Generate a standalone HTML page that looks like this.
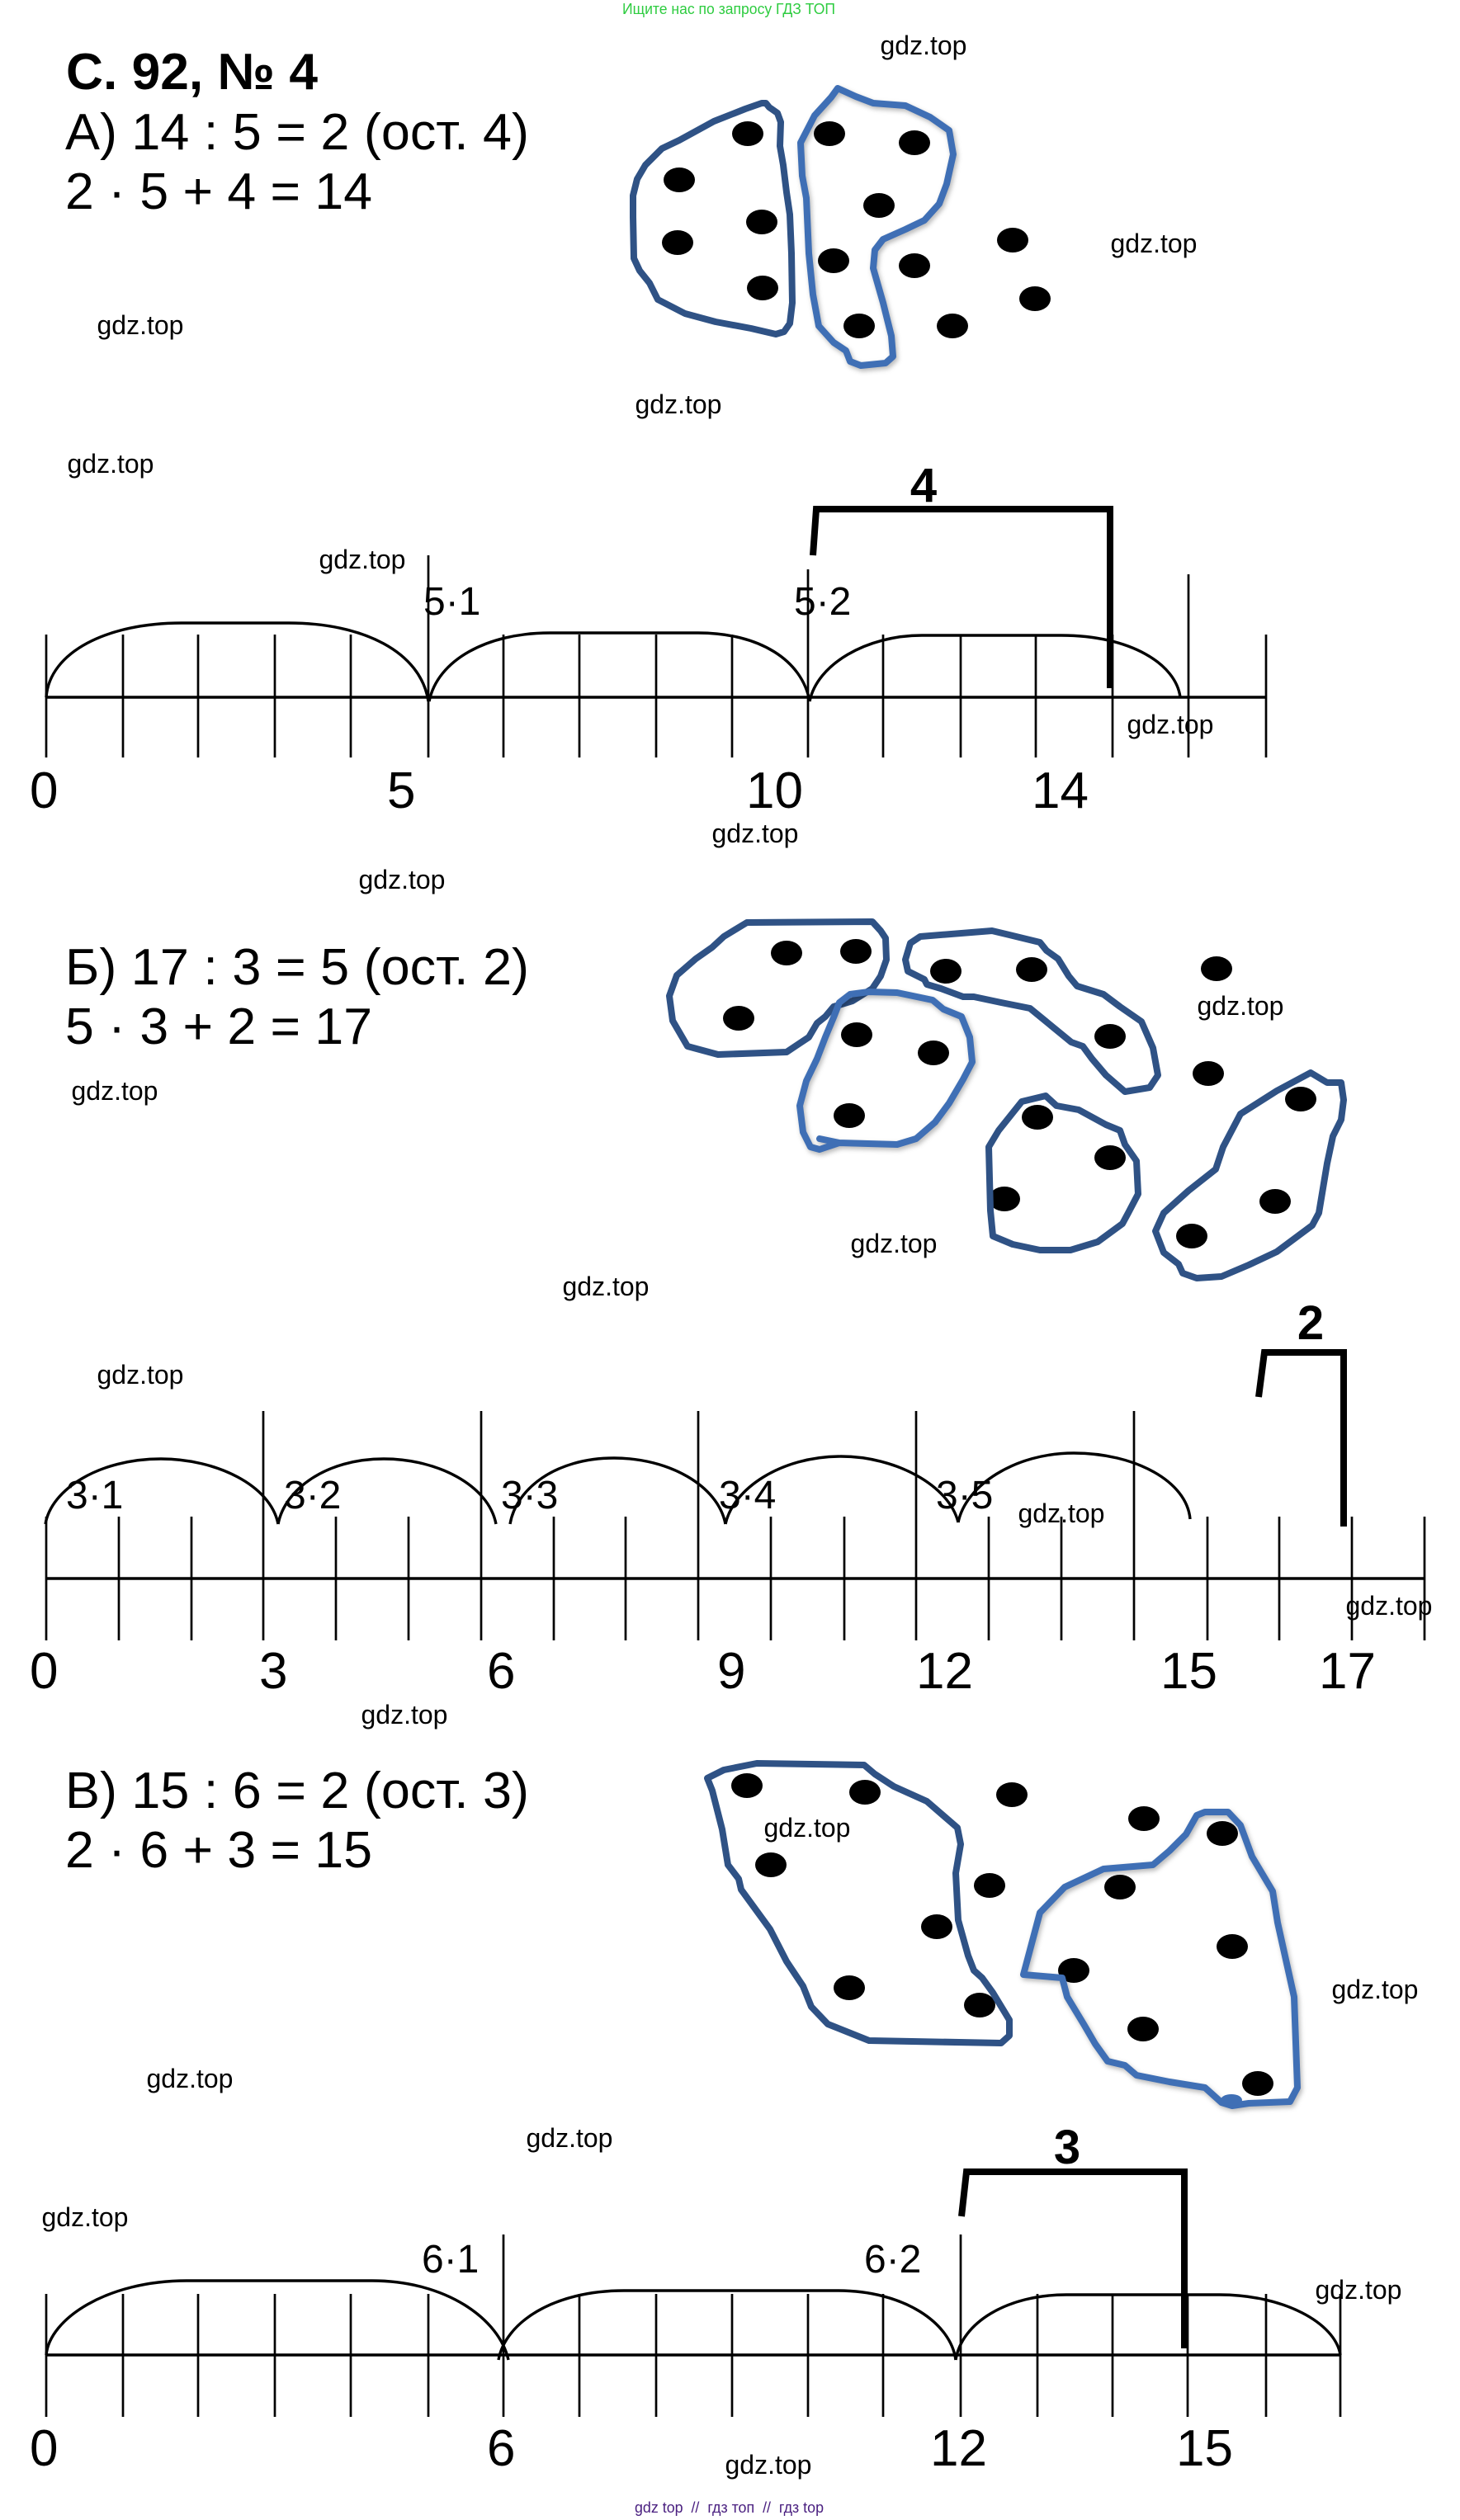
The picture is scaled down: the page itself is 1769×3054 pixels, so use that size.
<!DOCTYPE html>
<html><head><meta charset="utf-8"><style>
html,body{margin:0;padding:0;background:#fff;width:1769px;height:3054px;overflow:hidden}
svg{display:block}
text{font-family:"Liberation Sans","Noto Sans CJK SC",sans-serif;fill:#000}
.t{font-size:62px}.b{font-size:62px;font-weight:bold}
.n{font-size:62px}.m{font-size:48px}.w{font-size:32px}
.d{fill:none;stroke:#2f5285;stroke-width:8;stroke-linejoin:round;stroke-linecap:round}
.l{fill:none;stroke:#3f6fb5;stroke-width:8;stroke-linejoin:round;stroke-linecap:round;filter:drop-shadow(2px 3px 3px rgba(0,0,0,.28))}
.a{fill:none;stroke:#000;stroke-width:3.4}
.k{fill:none;stroke:#000;stroke-width:2.7}
.h{fill:none;stroke:#000;stroke-width:8}
</style></head><body>
<svg width="1769" height="3054" viewBox="0 0 1769 3054" xmlns="http://www.w3.org/2000/svg">
<rect width="1769" height="3054" fill="#fff"/>
<text x="754" y="17" style="font-size:18px;fill:#2ecc40" textLength="258" lengthAdjust="spacingAndGlyphs">Ищите нас по запросу ГДЗ ТОП</text>
<text x="769" y="3045" style="font-size:18px;fill:#4a2080" textLength="229" lengthAdjust="spacingAndGlyphs">gdz top &#160;// &#160;гдз топ &#160;// &#160;гдз top</text>

<!-- A text -->
<text class="b" x="80" y="108" textLength="305" lengthAdjust="spacingAndGlyphs">С. 92, № 4</text>
<text class="t" x="79" y="181" textLength="562" lengthAdjust="spacingAndGlyphs">А) 14 : 5 = 2 (ост. 4)</text>
<text class="t" x="79" y="253" textLength="372" lengthAdjust="spacingAndGlyphs">2 · 5 + 4 = 14</text>

<!-- A blobs -->
<g fill="#000">
<ellipse cx="906" cy="162" rx="19" ry="15"/><ellipse cx="823" cy="218" rx="19" ry="15"/><ellipse cx="923" cy="269" rx="19" ry="15"/><ellipse cx="821" cy="294" rx="19" ry="15"/><ellipse cx="924" cy="349" rx="19" ry="15"/><ellipse cx="1005" cy="162" rx="19" ry="15"/><ellipse cx="1108" cy="173" rx="19" ry="15"/><ellipse cx="1065" cy="249" rx="19" ry="15"/><ellipse cx="1010" cy="316" rx="19" ry="15"/><ellipse cx="1108" cy="322" rx="19" ry="15"/><ellipse cx="1227" cy="291" rx="19" ry="15"/><ellipse cx="1254" cy="362" rx="19" ry="15"/><ellipse cx="1041" cy="395" rx="19" ry="15"/><ellipse cx="1154" cy="395" rx="19" ry="15"/>
</g>
<polygon class="d" points="928,125 932,130 942,137 946,148 945,177 949,200 953,233 957,260 959,307 960,367 957,392 950,402 940,405 910,398 867,390 830,380 797,363 787,343 775,328 768,313 767,263 767,237 772,217 782,200 802,180 823,170 865,147 903,132 923,125"/>
<polygon class="l" points="1015,107 1037,117 1058,125 1097,128 1127,142 1150,158 1155,187 1147,223 1138,247 1120,267 1097,278 1070,290 1060,303 1058,325 1070,367 1080,407 1082,432 1073,440 1043,443 1030,438 1025,425 1010,415 992,395 985,357 980,307 977,240 972,213 970,173 987,140 1007,118"/>

<!-- A line -->
<path class="a" d="M56 845H1534"/>
<path class="k" d="M56 769V918M149 769V918M240 769V918M333 769V918M425 769V918M519 673V918M610 769V918M702 769V918M795 769V918M887 769V918M979 690V918M1070 769V918M1164 769V918M1255 769V918M1348 769V918M1440 696V918M1534 769V918"/>
<path class="a" d="M56 845C60 790 130 755 220 755H350C440 755 510 790 519 850"/>
<path class="a" d="M520 850C530 800 590 767 666 767H846C920 767 972 800 981 850"/>
<path class="a" d="M981 850C990 805 1050 770 1117 770H1286C1370 770 1425 805 1430 845"/>
<path class="h" d="M985 673L989 617H1345V834"/>
<text class="b" x="1119" y="608" text-anchor="middle" style="font-size:58px">4</text>
<text class="m" x="513" y="745">5·1</text>
<text class="m" x="962" y="745">5·2</text>
<text class="n" x="36" y="979">0</text><text class="n" x="469" y="979">5</text>
<text class="n" x="904" y="979">10</text>
<text class="n" x="1250" y="979">14</text>

<!-- Б text -->
<text class="t" x="79" y="1193" textLength="562" lengthAdjust="spacingAndGlyphs">Б) 17 : 3 = 5 (ост. 2)</text>
<text class="t" x="79" y="1265" textLength="372" lengthAdjust="spacingAndGlyphs">5 · 3 + 2 = 17</text>

<!-- Б blobs -->
<g fill="#000">
<ellipse cx="953" cy="1155" rx="19" ry="15"/><ellipse cx="1037" cy="1153" rx="19" ry="15"/><ellipse cx="895" cy="1234" rx="19" ry="15"/><ellipse cx="1146" cy="1177" rx="19" ry="15"/><ellipse cx="1250" cy="1175" rx="19" ry="15"/><ellipse cx="1345" cy="1256" rx="19" ry="15"/><ellipse cx="1474" cy="1174" rx="19" ry="15"/><ellipse cx="1464" cy="1301" rx="19" ry="15"/><ellipse cx="1038" cy="1254" rx="19" ry="15"/><ellipse cx="1131" cy="1276" rx="19" ry="15"/><ellipse cx="1029" cy="1352" rx="19" ry="15"/><ellipse cx="1257" cy="1354" rx="19" ry="15"/><ellipse cx="1345" cy="1403" rx="19" ry="15"/><ellipse cx="1217" cy="1453" rx="19" ry="15"/><ellipse cx="1576" cy="1332" rx="19" ry="15"/><ellipse cx="1545" cy="1456" rx="19" ry="15"/><ellipse cx="1444" cy="1498" rx="19" ry="15"/>
</g>
<polygon class="d" points="905,1118 1057,1117 1067,1128 1073,1137 1074,1163 1067,1183 1057,1198 1033,1213 1010,1220 1000,1232 990,1240 980,1257 953,1275 870,1278 833,1268 815,1237 811,1207 820,1182 843,1162 863,1148 877,1135"/>
<polygon class="d" points="1115,1135 1202,1128 1223,1133 1260,1142 1268,1152 1282,1162 1295,1183 1305,1195 1337,1205 1357,1220 1383,1238 1397,1270 1403,1303 1393,1318 1363,1323 1340,1303 1323,1283 1312,1268 1298,1263 1248,1222 1213,1215 1180,1208 1167,1208 1140,1198 1123,1193 1120,1187 1100,1177 1097,1163 1103,1143"/>
<polygon class="d" points="1267,1328 1280,1340 1307,1345 1340,1363 1357,1370 1363,1387 1377,1407 1379,1447 1367,1470 1360,1483 1330,1505 1297,1515 1260,1515 1227,1508 1203,1498 1200,1467 1198,1390 1210,1370 1238,1335"/>
<polygon class="d" points="1588,1300 1608,1312 1625,1312 1628,1333 1625,1357 1615,1377 1608,1410 1598,1470 1590,1485 1547,1517 1513,1533 1480,1547 1450,1549 1433,1543 1428,1532 1410,1518 1400,1492 1410,1470 1440,1443 1473,1417 1482,1390 1503,1350 1547,1322"/>
<path class="l" d="M1017 1215L1030 1205 1053 1202 1087 1203 1130 1212 1143 1223 1165 1232 1175 1257 1178 1287 1167 1308 1150 1337 1133 1360 1110 1380 1087 1387 1017 1385 993 1393 982 1390 973 1372 969 1340 977 1310 990 1283 1000 1257 1010 1233ZM993 1380L1017 1385"/>

<!-- Б line -->
<path class="a" d="M56 1913H1726"/>
<path class="k" d="M56 1838V1988M144 1838V1988M232 1838V1988M319 1710V1988M407 1838V1988M495 1838V1988M583 1710V1988M671 1838V1988M758 1838V1988M846 1710V1988M934 1838V1988M1023 1838V1988M1110 1710V1988M1198 1838V1988M1286 1838V1988M1374 1710V1988M1463 1838V1988M1550 1838V1988M1638 1838V1988M1726 1838V1988"/>
<path class="a" d="M55 1847C62 1805 120 1768 195 1768C262 1768 328 1800 337 1847"/>
<path class="a" d="M337 1847C345 1805 395 1768 465 1768C530 1768 592 1800 601 1847"/>
<path class="a" d="M618 1847C625 1805 672 1767 744 1767C810 1767 870 1800 879 1847"/>
<path class="a" d="M879 1847C888 1805 945 1765 1019 1765C1085 1765 1150 1800 1161 1845"/>
<path class="a" d="M1161 1845C1170 1800 1230 1761 1301 1761C1375 1761 1438 1795 1442 1841"/>
<path class="h" d="M1525 1693L1532 1639H1628V1850"/>
<text class="b" x="1588" y="1623" text-anchor="middle" style="font-size:58px">2</text>
<text class="m" x="80" y="1828">3·1</text>
<text class="m" x="344" y="1828">3·2</text>
<text class="m" x="607" y="1828">3·3</text>
<text class="m" x="871" y="1828">3·4</text>
<text class="m" x="1134" y="1828">3·5</text>
<text class="n" x="36" y="2046">0</text><text class="n" x="314" y="2046">3</text><text class="n" x="590" y="2046">6</text><text class="n" x="869" y="2046">9</text>
<text class="n" x="1110" y="2046">12</text>
<text class="n" x="1406" y="2046">15</text>
<text class="n" x="1598" y="2046">17</text>

<!-- В text -->
<text class="t" x="79" y="2191" textLength="562" lengthAdjust="spacingAndGlyphs">В) 15 : 6 = 2 (ост. 3)</text>
<text class="t" x="79" y="2263" textLength="372" lengthAdjust="spacingAndGlyphs">2 · 6 + 3 = 15</text>

<!-- В blobs -->
<g fill="#000">
<ellipse cx="905" cy="2164" rx="19" ry="15"/><ellipse cx="1048" cy="2172" rx="19" ry="15"/><ellipse cx="1226" cy="2175" rx="19" ry="15"/><ellipse cx="1386" cy="2204" rx="19" ry="15"/><ellipse cx="1481" cy="2222" rx="19" ry="15"/><ellipse cx="934" cy="2260" rx="19" ry="15"/><ellipse cx="1357" cy="2287" rx="19" ry="15"/><ellipse cx="1199" cy="2285" rx="19" ry="15"/><ellipse cx="1135" cy="2335" rx="19" ry="15"/><ellipse cx="1493" cy="2359" rx="19" ry="15"/><ellipse cx="1301" cy="2388" rx="19" ry="15"/><ellipse cx="1029" cy="2409" rx="19" ry="15"/><ellipse cx="1187" cy="2430" rx="19" ry="15"/><ellipse cx="1385" cy="2459" rx="19" ry="15"/><ellipse cx="1524" cy="2525" rx="19" ry="15"/>
</g>
<polygon class="d" points="857,2155 877,2145 917,2137 1047,2139 1060,2150 1083,2165 1123,2183 1160,2215 1164,2235 1158,2270 1161,2327 1173,2370 1180,2388 1190,2397 1203,2415 1223,2448 1223,2467 1213,2476 1053,2473 1003,2453 983,2432 973,2407 953,2377 933,2338 898,2290 895,2277 882,2260 875,2217 863,2170"/>
<polygon class="l" points="1450,2200 1460,2196 1488,2196 1503,2212 1517,2250 1542,2292 1548,2330 1568,2420 1572,2530 1563,2547 1513,2549 1493,2552 1480,2548 1460,2530 1417,2523 1377,2515 1363,2503 1342,2498 1327,2477 1313,2453 1293,2420 1287,2397 1240,2393 1260,2318 1290,2287 1337,2265 1397,2260 1417,2243 1437,2223"/>
<ellipse cx="1492" cy="2545" rx="13" ry="7" fill="#3f6fb5"/>

<!-- В line -->
<path class="a" d="M56 2854H1624"/>
<path class="k" d="M56 2780V2929M149 2780V2929M240 2780V2929M333 2780V2929M425 2780V2929M519 2780V2929M610 2708V2929M702 2780V2929M795 2780V2929M887 2780V2929M979 2780V2929M1070 2780V2929M1164 2708V2929M1257 2780V2929M1348 2780V2929M1439 2780V2929M1534 2780V2929M1624 2780V2929"/>
<path class="a" d="M56 2854C60 2810 130 2764 226 2764H451C540 2764 605 2810 616 2860"/>
<path class="a" d="M604 2860C612 2815 670 2776 756 2776H1015C1095 2776 1152 2815 1158 2860"/>
<path class="a" d="M1158 2860C1165 2815 1220 2781 1292 2781H1478C1555 2781 1618 2815 1624 2854"/>
<path class="h" d="M1165 2686L1171 2632H1435V2846"/>
<text class="b" x="1293" y="2622" text-anchor="middle" style="font-size:58px">3</text>
<text class="m" x="511" y="2754">6·1</text>
<text class="m" x="1047" y="2754">6·2</text>
<text class="n" x="36" y="2988">0</text><text class="n" x="590" y="2988">6</text>
<text class="n" x="1127" y="2988">12</text>
<text class="n" x="1425" y="2988">15</text>

<!-- watermarks -->
<g transform="translate(0.5,1)">
<text class="w" x="1066" y="65">gdz.top</text>
<text class="w" x="1345" y="305">gdz.top</text>
<text class="w" x="117" y="404">gdz.top</text>
<text class="w" x="769" y="500">gdz.top</text>
<text class="w" x="81" y="572">gdz.top</text>
<text class="w" x="386" y="688">gdz.top</text>
<text class="w" x="1365" y="888">gdz.top</text>
<text class="w" x="862" y="1020">gdz.top</text>
<text class="w" x="434" y="1076">gdz.top</text>
<text class="w" x="86" y="1332">gdz.top</text>
<text class="w" x="1450" y="1229">gdz.top</text>
<text class="w" x="1030" y="1517">gdz.top</text>
<text class="w" x="681" y="1569">gdz.top</text>
<text class="w" x="117" y="1676">gdz.top</text>
<text class="w" x="1233" y="1844">gdz.top</text>
<text class="w" x="1630" y="1956">gdz.top</text>
<text class="w" x="437" y="2088">gdz.top</text>
<text class="w" x="925" y="2225">gdz.top</text>
<text class="w" x="1613" y="2421">gdz.top</text>
<text class="w" x="177" y="2529">gdz.top</text>
<text class="w" x="637" y="2601">gdz.top</text>
<text class="w" x="50" y="2697">gdz.top</text>
<text class="w" x="1593" y="2785">gdz.top</text>
<text class="w" x="878" y="2997">gdz.top</text>
</g>
</svg>
</body></html>
